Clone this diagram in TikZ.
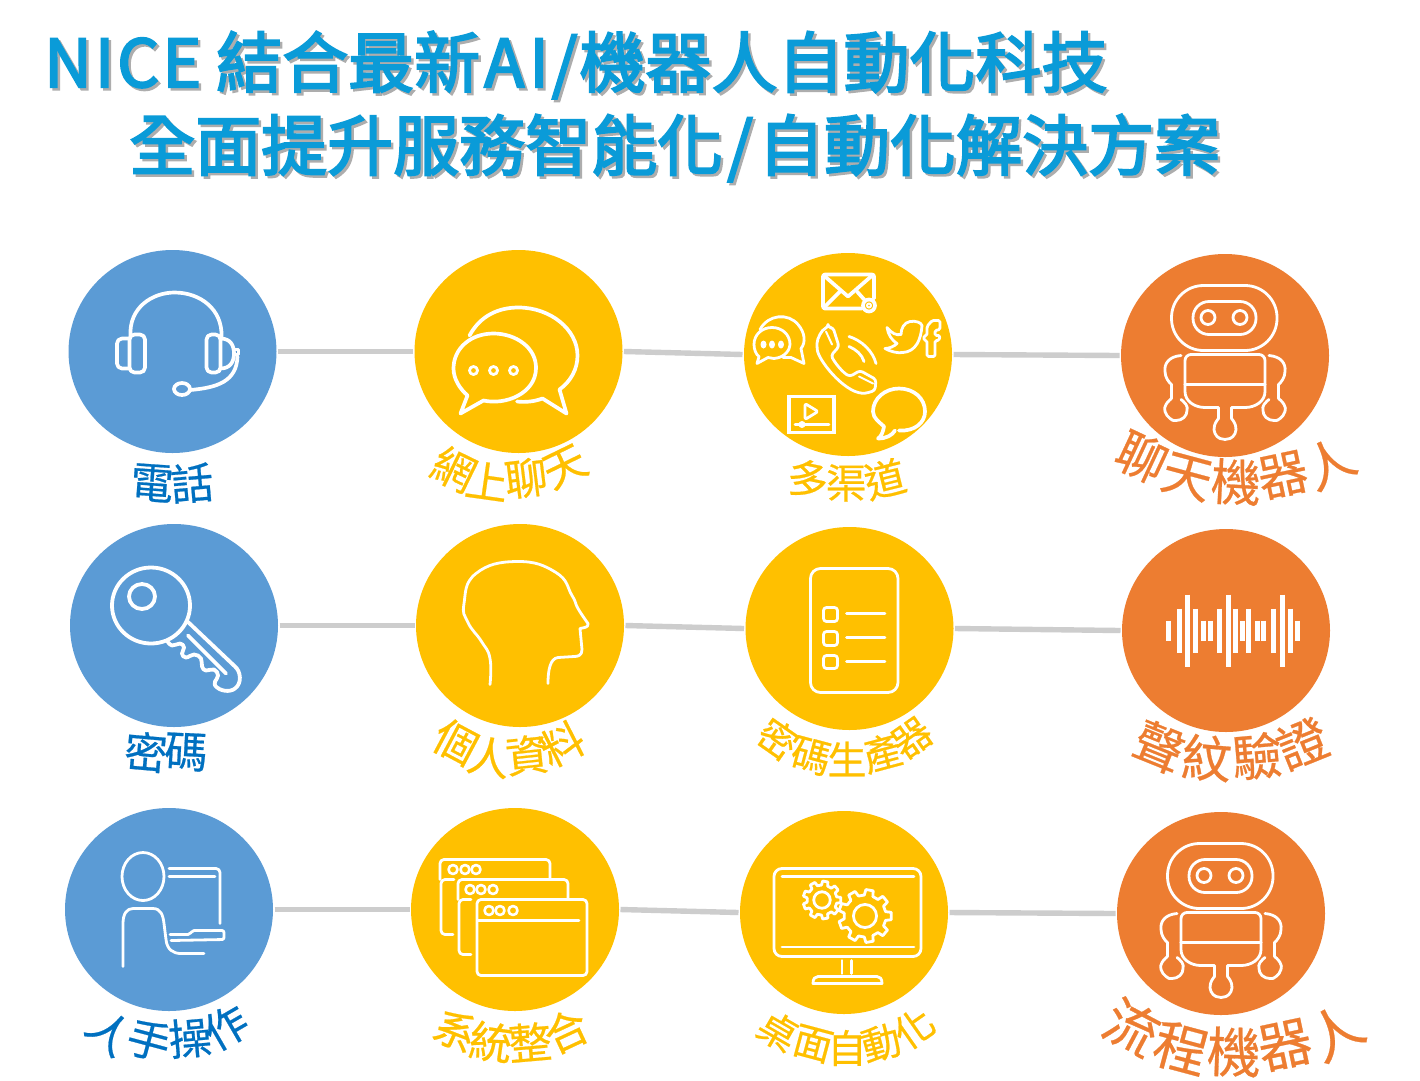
\documentclass[tikz,border=0pt]{standalone}
\usepackage{fontspec}
\usetikzlibrary{shapes.geometric}
\setmainfont{Noto Sans CJK TC}
\newfontfamily\ttlfam[FakeBold=3]{Noto Sans CJK TC}
\newfontfamily\labfam[FakeBold=0.5]{Noto Sans CJK TC}
\definecolor{cblue}{HTML}{5B9BD5}
\definecolor{cyel}{HTML}{FFC000}
\definecolor{cora}{HTML}{ED7D31}
\definecolor{lblue}{HTML}{0070C0}
\definecolor{ttl}{HTML}{0A9BD8}
\definecolor{lnk}{HTML}{CDCDCD}
\tikzset{
 disc/.style={ellipse,minimum width=208pt,minimum height=203pt,inner sep=0pt,outer sep=1.5pt,fill=#1},
 link/.style={draw=lnk,line width=5.4pt,yshift=-.5pt},
 ico/.style={draw=white,line width=3.7pt,line cap=round,line join=round},
 thin ico/.style={draw=white,line width=2.8pt,line cap=round,line join=round},
 ttlfont/.style={font=\ttlfam\fontsize{66}{66}\selectfont,anchor=base west,inner sep=0pt},
 lab/.style={inner sep=0pt,font=\labfam\fontsize{#1}{#1}\selectfont},
}
\newcommand\armL{%
 \draw[thin ico] (-44,0) .. controls (-56,1) and (-61,8) .. (-60,16) .. controls (-60,22) and (-56,27) .. (-53.5,29) -- (-53.5,43);
 \draw[thin ico] plot[smooth,tension=.8] coordinates {(-53.5,43) (-59,49) (-60,56) (-55,63) (-49,65) (-41,62) (-38,55) (-39,49) (-44,44)};
}
\newcommand\robotico{%
 \draw[thin ico,rounded corners=32pt] (-53.5,-70) rectangle (52,-5);
 \draw[thin ico,rounded corners=16pt] (-32,-54) rectangle (31,-21);
 \draw[thin ico] (-17,-38) circle[radius=7];
 \draw[thin ico] (15,-38) circle[radius=7];
 \draw[thin ico,rounded corners=6pt] (-40,29) -- (-40,-1) -- (40,-1) -- (40,29);
 \draw[thin ico] (-40,29) -- (40,29);
 \draw[thin ico] (-40,29) -- (-40,36) .. controls (-40,46) and (-30,52) .. (-20,52) -- (-6.5,52) -- (-6.5,63);
 \draw[thin ico] (40,29) -- (40,36) .. controls (40,46) and (30,52) .. (20,52) -- (6.5,52) -- (6.5,63);
 \draw[thin ico] plot[smooth,tension=.8] coordinates {(-6.5,63) (-10.5,70) (-10,78) (-5,83) (0,84) (5,83) (10,78) (10.5,70) (6.5,63)};
 \armL
 \begin{scope}[xscale=-1]\armL\end{scope}
}
\newcommand\gearico[5]{%
 \begin{scope}[shift={(#1,#2)}]
 \draw[thin ico] (0,0) circle[radius=#4*.55];
 \pgfmathsetmacro\st{360/#5}
 \foreach \k in {1,...,#5}{
  \pgfmathsetmacro\a{\st*\k}
  \draw[thin ico] ({\a-.3*\st}:#4) -- ({\a-.2*\st}:#3) -- ({\a+.2*\st}:#3) -- ({\a+.3*\st}:#4) -- ({\a+.7*\st}:#4);
 }
 \end{scope}
}
\begin{document}
\begin{tikzpicture}[x=1pt,y=-1pt]
\useasboundingbox[fill=white] (0,0) rectangle (1420,1080);
% title shadow + title
\newcommand\lineA{N\hspace{3pt}I\hspace{3pt}C\hspace{3pt}E\hspace{15pt}結合最新\hspace{4pt}A\hspace{5pt}I\hspace{3pt}/\hspace{2pt}機器人自動化科技}
\newcommand\lineB{全面提升服務智能化\hspace{4pt}/\hspace{5pt}自動化解決方案}
\node[ttlfont,text=black!32] (ts1) at (46.5,89.5) {\lineA};
\node[ttlfont,text=black!32] (ts2) at (131.5,172.5) {\lineB};
\node[ttlfont,text=ttl] (t1) at (44,87) {\lineA};
\node[ttlfont,text=ttl] (t2) at (129,170) {\lineB};
% discs
\node[disc=cblue] (a1) at (172.5,351.5) {};
\node[disc=cyel]  (a2) at (518.5,351.5) {};
\node[disc=cyel]  (a3) at (848,354.5) {};
\node[disc=cora]  (a4) at (1225,355.5) {};
\node[disc=cblue] (b1) at (174,625.5) {};
\node[disc=cyel]  (b2) at (520,625.5) {};
\node[disc=cyel]  (b3) at (849.5,628.5) {};
\node[disc=cora]  (b4) at (1226,630.5) {};
\node[disc=cblue] (c1) at (169,909.5) {};
\node[disc=cyel]  (c2) at (515,909.5) {};
\node[disc=cyel]  (c3) at (844,912.5) {};
\node[disc=cora]  (c4) at (1221,913.5) {};
% connectors
\foreach \r in {a,b,c}{
 \draw[link] (\r1.east) -- (\r2.west);
 \draw[link] (\r2.east) -- (\r3.west);
 \draw[link] (\r3.east) -- (\r4.west);
}
% headset
\begin{scope}[shift={(172.5,351.5)}]
 \draw[ico] (-42,-15) .. controls (-44,-44) and (-20,-59) .. (2,-59) .. controls (28,-59) and (50,-42) .. (49,-15);
 \draw[ico,rounded corners=5pt] (-43,-17) rectangle (-27.5,21);
 \draw[ico,rounded corners=5pt] (34,-17) rectangle (48,21);
 \draw[ico,rounded corners=5pt] (-43,-13) -- (-55.5,-13) -- (-55.5,17) -- (-43,17);
 \draw[ico] (48,-13) .. controls (58,-13) and (61.5,-6) .. (61.5,2) .. controls (61.5,11) and (57,17) .. (48,17);
 \draw[ico] (63,-2) -- (66,-2) -- (66,3) -- (63,3);
 \draw[ico] (65,5) .. controls (64,30) and (45,36) .. (18,38.5);
 \draw[ico] (9.5,37.5) ellipse[x radius=8,y radius=6];
\end{scope}
% chat
\begin{scope}[shift={(518.5,351.5)}]
 \draw[ico] (-49,-16) .. controls (-38,-36) and (-20,-44) .. (0,-44) .. controls (32,-44) and (59,-22) .. (59,4) .. controls (59,18) and (52,30) .. (41,38) -- (48,62) -- (24,47) .. controls (16,50) and (7,51) .. (-1.5,50);
 \draw[ico] (-35,49) .. controls (-13,54) and (17,42) .. (17.5,17) .. controls (18,-4) and (-3,-18) .. (-25,-18) .. controls (-48,-18) and (-65,-3) .. (-65,17) .. controls (-65,27) and (-59,37) .. (-51,44) -- (-58,62) -- cycle;
 \foreach \x in {-45,-25,-5}{\draw[ico,line width=2.8pt] (\x,19) circle[radius=4];}
\end{scope}
% multichannel
\begin{scope}[shift={(848,354.5)}]
 \draw[ico,rounded corners=2pt] (14,-46) -- (-25,-46) -- (-25,-80) -- (26,-80) -- (26,-56);
 \draw[ico] (-23,-78) -- (0,-58) -- (23,-78);
 \draw[ico] (-23,-48) -- (-8,-63);
 \draw[ico] (9,-63) -- (17,-54);
 \draw[ico] (21,-49) circle[radius=6];
 \draw[ico,line width=2pt] (21,-49) circle[radius=2];
 % left chat
 \draw[ico,line width=2.8pt] (-88,-25) .. controls (-80,-40) and (-60,-42) .. (-50,-30) .. controls (-43,-22) and (-42,-12) .. (-47,-6) -- (-44,9) -- (-57,3) -- (-65,3);
 \draw[ico,line width=2.8pt] (-74,4) .. controls (-62,3) and (-58,-6) .. (-58,-10) .. controls (-58,-20) and (-66,-27) .. (-76,-27) .. controls (-86,-27) and (-94,-20) .. (-94,-10) .. controls (-94,-5) and (-92,0) .. (-89,2) -- (-91,9) -- (-80,3) -- cycle;
 \foreach \x in {-84.5,-76,-67}{\fill[white] (\x,-10) ellipse[x radius=3,y radius=4];}
 % phone
 \draw[ico,line width=2.8pt,rounded corners=3pt] (-20,-27) -- (-15,-27) -- (-9,-8) -- (-17,1) .. controls (-12,10) and (-5,18) .. (2,22) -- (12,16) -- (28,25) -- (27,36) -- (17,39) .. controls (-5,37) and (-30,5) .. (-31,-8) .. controls (-31,-16) and (-26,-25) .. (-20,-27) -- cycle;
 \draw[ico,line width=2pt] (-22,-23) -- (-16,-10);
 \draw[ico,line width=2pt] (11,22) -- (25,29);
 \draw[ico,line width=2.8pt] (1,-18) .. controls (14,-14) and (25,-3) .. (28,9);
 \draw[ico,line width=2.8pt] (1,-8) .. controls (8,-5) and (14,0) .. (16,7);
 % bird
 \draw[ico,line width=2.8pt] (39,-27) .. controls (44,-21) and (48,-19) .. (53,-20) .. controls (53,-26) and (56,-32) .. (62,-33) .. controls (68,-34) and (73,-32) .. (74,-29) .. controls (73,-15) and (68,-3) .. (55,-2) .. controls (50,-1) and (42,-3) .. (37,-6) .. controls (41,-6) and (46,-8) .. (49,-11) .. controls (44,-14) and (40,-20) .. (39,-27) -- cycle;
 % f
 \draw[ico,line width=2.8pt,rounded corners=1.5pt] (92,-34) -- (92,-25) -- (87,-24) -- (87,-19) -- (92,-19) -- (91,-14) -- (87,-14) -- (87,2) -- (79,2) -- (79,-14) -- (76,-14) -- (76,-19) -- (79,-19) -- (79,-28) -- (84,-34) -- cycle;
 % video
 \draw[draw=white,line width=3.2pt] (-59,42) rectangle (-14,78);
 \draw[ico,line width=2.8pt,rounded corners=2pt] (-43,49) -- (-43,65) -- (-30,57) -- cycle;
 \draw[ico,line width=2.8pt] (-53,70) -- (-19,70);
 \fill[white] (-46,70) circle[radius=3.5];
 % right bubble
 \draw[ico] (51,76) .. controls (67,77) and (77,68) .. (77,57) .. controls (77,44) and (66,34) .. (51,34) .. controls (37,34) and (25,44) .. (25,57) .. controls (25,64) and (32,68) .. (36,72) .. controls (35,78) and (33,82) .. (30,84) .. controls (38,84) and (44,81) .. (47,76);
\end{scope}
% robot 1, 2
\begin{scope}[shift={(1225,355.5)}]\robotico\end{scope}
\begin{scope}[shift={(1221,913.5)}]\robotico\end{scope}
% key
\begin{scope}[shift={(174,625.5)}]
 \draw[ico,line width=3.8pt] (-23,-20) ellipse[x radius=39,y radius=38];
 \draw[ico,line width=3.8pt] (-32,-29) ellipse[x radius=13,y radius=12.5];
 \draw[ico,line width=3.8pt] (13.5,-4) -- (61,41) .. controls (67,46) and (68,58) .. (61,63) .. controls (56,67) and (46,66) .. (41,60);
 \draw[ico,line width=3.8pt] plot[smooth,tension=.8] coordinates {(-7,15) (-2,20) (6,18) (10,22) (8,28) (12,32) (20,29) (27,33) (28,41) (32,45) (40,44) (44,50) (41,56) (41,60)};
 \draw[ico,line width=3.8pt] (14,10) -- (52,48);
\end{scope}
% head
\begin{scope}[shift={(520,625.5)}]
 \draw[ico,line width=2.8pt] plot[smooth,tension=.8] coordinates {(-30,59) (-30,33) (-38.5,16) (-52,-3) (-56,-22) (-44,-52) (-3,-64) (36,-53) (52,-30) (58,-17) (68,-2)};
 \draw[ico,line width=2.8pt] (68,-2) .. controls (69,2) and (64,2) .. (60,3) -- (62,24) .. controls (62,30) and (58,31) .. (54,31) -- (38,32) .. controls (30,33) and (28,45) .. (28,58);
\end{scope}
% checklist
\begin{scope}[shift={(849.5,628.5)}]
 \draw[ico,line width=2.8pt,rounded corners=10pt] (-39,-60) rectangle (48.5,64);
 \foreach \t/\b/\l in {-21/-7/-15,3/17/9,27/40/33}{
  \draw[ico,line width=2.8pt,rounded corners=3pt] (-26,\t) rectangle (-12,\b);
  \draw[ico,line width=2.8pt] (-3,\l) -- (35.5,\l);
 }
\end{scope}
% waveform
\begin{scope}[shift={(1226,630.5)}]
 \foreach \x/\h in {-58/10,-47/22,-38.5/36,-31/22,-23/10,-16/10,-7/22,2.5/36,9.5/22,16/10,22.5/22,31/10,37/10,47/22,56.5/36,64/22,71/10}{
  \draw[white,line width=5pt] (\x,-\h) -- (\x,\h);
 }
\end{scope}
% person
\begin{scope}[shift={(169,909.5)}]
 \draw[ico,line width=2.8pt] (-26,-33) ellipse[x radius=21,y radius=24];
 \draw[ico,line width=2.8pt] (-46,57) -- (-46,14) .. controls (-46,4) and (-42,-1) .. (-36,-1) -- (-16,-1) .. controls (-8,-1) and (-6,6) .. (-5,14) -- (-3,30) .. controls (-2,40) and (4,44) .. (12,44) -- (35,44);
 \draw[ico,line width=2.8pt,rounded corners=4pt] (0,-41) -- (51,-41) -- (51,14);
 \draw[ico,line width=2.8pt] (0,-33) -- (46,-33);
 \draw[ico,line width=2.8pt,rounded corners=2pt] (1,25) -- (21,25) -- (23,21) -- (55,21) -- (55,30) -- (2,31);
\end{scope}
% windows
\begin{scope}[shift={(515,909.5)}]
 \draw[ico,line width=2.8pt,rounded corners=4pt] (-75,-30) -- (-75,-50) -- (35,-50) -- (35,-30);
 \draw[ico,line width=2.8pt,rounded corners=4pt] (-61,-30) -- (-74,-30) -- (-74,25) -- (-62,25);
 \draw[ico,line width=2.8pt,rounded corners=4pt] (-57,-10) -- (-57,-30) -- (53,-30) -- (53,-10);
 \draw[ico,line width=2.8pt,rounded corners=4pt] (-44,-10) -- (-56,-10) -- (-56,45) -- (-44,45);
 \draw[ico,line width=2.8pt,rounded corners=4pt] (-38,-10) rectangle (72,66);
 \draw[ico,line width=2.8pt] (-37,11) -- (64,11);
 \foreach \x/\y in {-62/-40,-50/-40,-39/-40,-45/-20,-34/-20,-22/-20,-26/1,-15/1,-2/1}{
  \draw[ico,line width=2.6pt] (\x,\y) circle[radius=4.5];
 }
\end{scope}
% monitor
\begin{scope}[shift={(844,912.5)}]
 \draw[ico,line width=2.8pt,rounded corners=8pt] (-70,-44) rectangle (77,44);
 \draw[ico,line width=2.8pt] (-62,-36) -- (70,-36);
 \draw[ico,line width=2.8pt] (-62,34.5) -- (70,34.5);
 \draw[ico,line width=2.8pt] (-2,48) -- (-2,61);
 \draw[ico,line width=2.8pt] (7.5,48) -- (7.5,61);
 \draw[ico,line width=2.8pt] (-31,71) -- (38,71) .. controls (38,66) and (36,64) .. (33,64) -- (-26,64) .. controls (-29,64) and (-31,66) .. (-31,71) -- cycle;
\end{scope}
\gearico{822}{900}{19}{15}{9}
\gearico{865}{916}{26.5}{21}{9}
% labels, character by character along their arcs
\foreach \c/\x/\y/\r [count=\i] in {電/152/483/-4,話/192/483/5}
 \node[lab=43,text=lblue,rotate=\r] (la\i) at (\x,\y) {\c};
\foreach \c/\x/\y/\r [count=\i] in {網/454/469/-26,上/487/481/-8,聊/526/478/7,天/565/467/26}
 \node[lab=43,text=cyel,rotate=\r] (lb\i) at (\x,\y) {\c};
\foreach \c/\x/\y/\r [count=\i] in {多/808/479/-12,渠/846/483/0,道/885/479/14}
 \node[lab=41,text=cyel,rotate=\r] (lc\i) at (\x,\y) {\c};
\foreach \c/\x/\y/\r [count=\i] in {聊/1142/457/-25,天/1187/477/-15,機/1236/482/-3,器/1283/475/12,人/1329/463/26}
 \node[lab=50,text=cora,rotate=\r] (ld\i) at (\x,\y) {\c};
\foreach \c/\x/\y/\r [count=\i] in {密/146/752/-5,碼/186/752/-3}
 \node[lab=43,text=lblue,rotate=\r] (le\i) at (\x,\y) {\c};
\foreach \c/\x/\y/\r [count=\i] in {個/456/742/-28,人/489/757/-10,資/527/755/6,料/562/744/27}
 \node[lab=43,text=cyel,rotate=\r] (lf\i) at (\x,\y) {\c};
\foreach \c/\x/\y/\r [count=\i] in {密/778/739/-35,碼/811/756/-15,生/847/759/0,產/882/753/15,器/912/738/35}
 \node[lab=39,text=cyel,rotate=\r] (lg\i) at (\x,\y) {\c};
\foreach \c/\x/\y/\r [count=\i] in {聲/1159/747/-22,紋/1207/758/-5,驗/1257/756/5,證/1302/743/22}
 \node[lab=50,text=cora,rotate=\r] (lh\i) at (\x,\y) {\c};
\foreach \c/\x/\y/\r [count=\i] in {人/110/1032/-40,手/149/1040/-15,操/190/1038/5,作/226/1027/30}
 \node[lab=43,text=lblue,rotate=\r] (li\i) at (\x,\y) {\c};
\foreach \c/\x/\y/\r [count=\i] in {系/456/1030/-25,統/491/1042/-8,整/530/1042/5,合/566/1031/25}
 \node[lab=43,text=cyel,rotate=\r] (lj\i) at (\x,\y) {\c};
\foreach \c/\x/\y/\r [count=\i] in {桌/778/1031/-30,面/813/1044/-15,自/847/1048/0,動/881/1043/15,化/914/1028/35}
 \node[lab=39,text=cyel,rotate=\r] (lk\i) at (\x,\y) {\c};
\foreach \c/\x/\y/\r [count=\i] in {流/1132/1027/-28,程/1181/1048/-15,機/1234/1052/-2,器/1285/1045/12,人/1335/1032/30}
 \node[lab=54,text=cora,rotate=\r] (ll\i) at (\x,\y) {\c};
\end{tikzpicture}
\end{document}
